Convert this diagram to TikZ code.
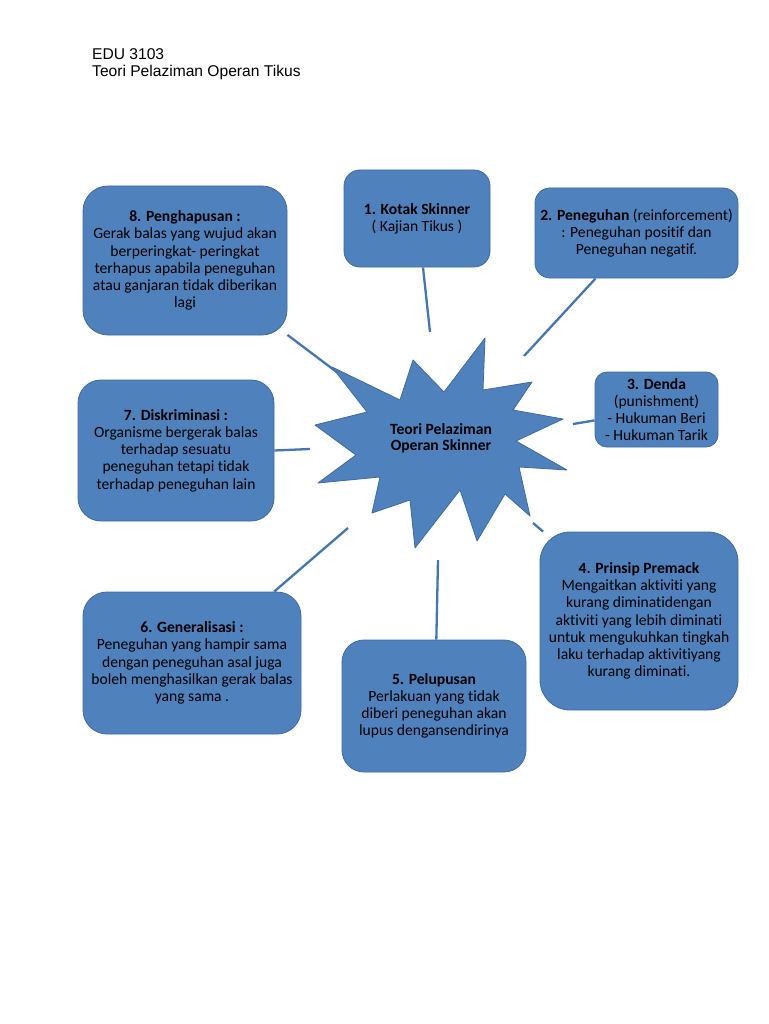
\documentclass[tikz,border=0pt]{standalone}
\usepackage{fontspec}
\newfontfamily\calibri[Ligatures=NoCommon]{Carlito}
\newfontfamily\arial{Liberation Sans}
\definecolor{boxblue}{HTML}{4F81BD}
\definecolor{edgeblue}{HTML}{3F6A9E}
\definecolor{lineblue}{HTML}{4675B0}
\tikzset{
  box/.style={draw=edgeblue,line width=0.8pt,fill=boxblue,align=center,
    inner sep=3pt,font=\calibri\fontsize{15.6}{17.2}\selectfont},
  link/.style={draw=lineblue,line width=2.3pt},
}
\begin{document}
\begin{tikzpicture}[x=1pt,y=-1pt,line join=round]

% ---- page ----
\fill[white] (0,0) rectangle (768,1024);
\useasboundingbox (0,0) rectangle (768,1024);

% ---- heading ----
\node[anchor=base west,font=\arial\fontsize{15.6}{17}\selectfont,align=left,inner sep=0pt] (head) at (92,77)
  {EDU 3103\\Teori Pelaziman Operan Tikus};

% ---- centre star ----
\draw[fill=boxblue,draw=edgeblue,line width=0.8pt]
  (332,367) -- (400,400) -- (413,360) -- (444,392) -- (485,338) -- (483,390)
  -- (532,382) -- (513,410) -- (563,419) -- (516,441) -- (567,470) -- (519,467)
  -- (530,516) -- (505,494) -- (477,541) -- (460,490) -- (415,548) -- (410,500)
  -- (372,513) -- (380,477) -- (318,483) -- (356,455) -- (315,425) -- (367,412) -- cycle;
\node[font=\calibri\bfseries\fontsize{15.6}{16.5}\selectfont,align=center] (hub) at (441,438)
  {Teori Pelaziman\\Operan Skinner};

% ---- boxes round the star ----
\node[box,minimum width=146pt,minimum height=97pt,rounded corners=16pt] (kotak) at (417,218.5)
  {\textbf{1. Kotak Skinner}\\( Kajian Tikus )};
\node[box,minimum width=203pt,minimum height=90pt,rounded corners=15pt] (peneguhan) at (636.5,233)
  {\textbf{2. Peneguhan} (reinforcement)\\: Peneguhan positif dan\\Peneguhan negatif.};
\node[box,minimum width=123pt,minimum height=75pt,rounded corners=12pt] (denda) at (656.5,409.5)
  {\textbf{3. Denda}\\(punishment)\\- Hukuman Beri\\- Hukuman Tarik};
\node[box,minimum width=198pt,minimum height=178pt,rounded corners=30pt] (premack) at (639,621)
  {\textbf{4. Prinsip Premack}\\Mengaitkan aktiviti yang\\kurang diminatidengan\\aktiviti yang lebih diminati\\untuk mengukuhkan tingkah\\laku terhadap aktivitiyang\\kurang diminati.};
\node[box,minimum width=184pt,minimum height=132pt,rounded corners=22pt] (pelupusan) at (434,706)
  {\textbf{5. Pelupusan}\\Perlakuan yang tidak\\diberi peneguhan akan\\lupus dengansendirinya};
\node[box,minimum width=218pt,minimum height=142pt,rounded corners=24pt] (generalisasi) at (192,663)
  {\textbf{6. Generalisasi :}\\Peneguhan yang hampir sama\\dengan peneguhan asal juga\\boleh menghasilkan gerak balas\\yang sama .};
\node[box,minimum width=196pt,minimum height=141pt,rounded corners=23pt] (diskriminasi) at (176,450.5)
  {\textbf{7. Diskriminasi :}\\Organisme bergerak balas\\terhadap sesuatu\\peneguhan tetapi tidak\\terhadap peneguhan lain};
\node[box,minimum width=204pt,minimum height=149pt,rounded corners=25pt] (penghapusan) at (185,260.5)
  {\textbf{8. Penghapusan :}\\Gerak balas yang wujud akan\\berperingkat- peringkat\\terhapus apabila peneguhan\\atau ganjaran tidak diberikan\\lagi};

% ---- free ends near the star ----
\coordinate (s1) at (430,332);
\coordinate (s2) at (524,356);
\coordinate (s3) at (573,424);
\coordinate (s4) at (533,523);
\coordinate (s5) at (438,560);
\coordinate (s6) at (348,528);
\coordinate (s7) at (310,449);
\coordinate (s8) at (338,373);

% ---- connectors ----
\draw[link] (kotak.-83) -- (s1);
\draw[link] (peneguhan.-132) -- (s2);
\draw[link] (denda.-170) -- (s3);
\draw[link] (premack.137) -- (s4);
\draw[link] (pelupusan.88) -- (s5);
\draw[link] (generalisasi.41) -- (s6);
\draw[link] (diskriminasi.east) -- (s7);
\draw[link] (penghapusan.-36) -- (s8);

\end{tikzpicture}
\end{document}
